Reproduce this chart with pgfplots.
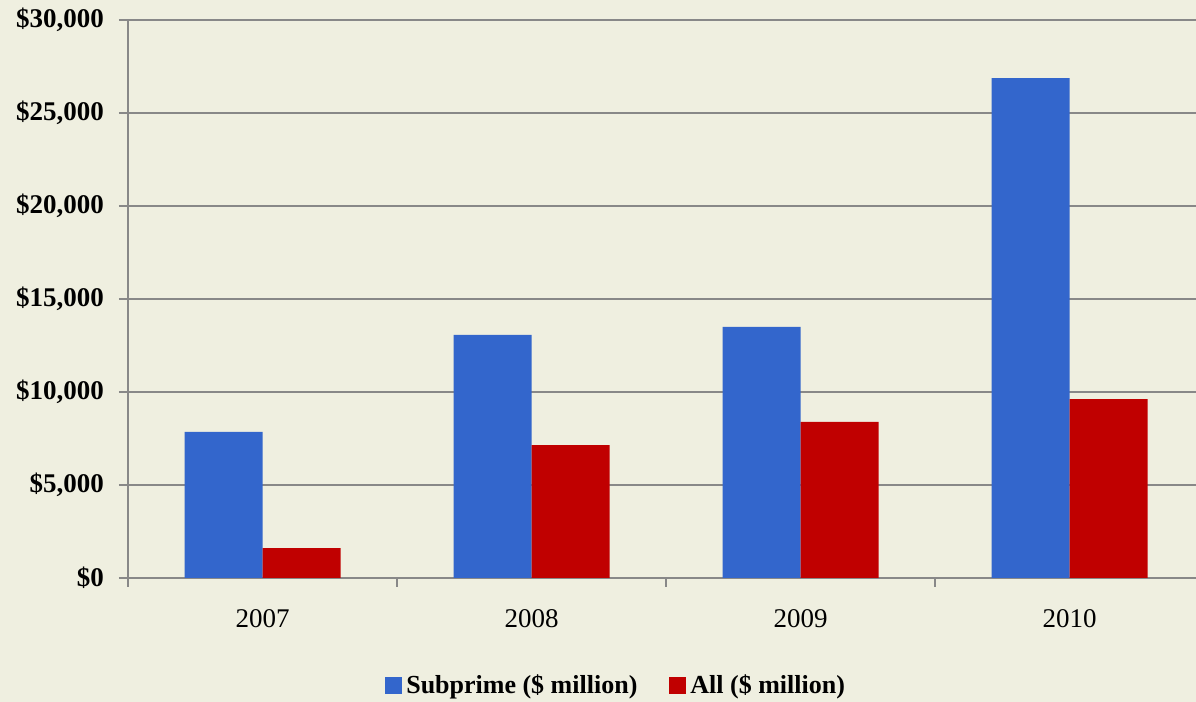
\documentclass[border=0pt]{standalone}
\usepackage{pgfplots}
\pgfplotsset{compat=1.18}
\usepackage{fontspec}
\setmainfont{Liberation Serif}
\definecolor{bg}{RGB}{239,239,224}
\definecolor{gridc}{RGB}{136,136,136}
\definecolor{sub}{RGB}{51,102,204}
\definecolor{allc}{RGB}{192,0,0}
\begin{document}
\begin{tikzpicture}
\fill[bg] (0,0) rectangle (598pt,351pt);
\useasboundingbox (0,0) rectangle (598pt,351pt);
\begin{axis}[
  at={(64pt,62pt)}, anchor=south west,
  scale only axis, width=534pt, height=279pt,
  ybar=0pt, bar width=39pt,
  xmin=-0.5, xmax=3.47,
  ymin=0, ymax=30000,
  axis x line*=bottom, axis y line*=left,
  axis line style={gridc, line width=1pt, -},
  every tick/.style={gridc, line width=1pt},
  ytick={0,5000,...,30000},
  yticklabels={\$0,{\$5,000},{\$10,000},{\$15,000},{\$20,000},{\$25,000},{\$30,000}},
  ymajorgrids, grid style={gridc, line width=1pt},
  yticklabel style={font=\bfseries\fontsize{13.5}{13.5}\selectfont, xshift=-4pt},
  scaled y ticks=false,
  ytick pos=left, tick align=outside, major tick length=4.5pt,
  xtick={-0.5,0.5,1.5,2.5}, xticklabels={},
  extra x ticks={0,1,2,3},
  extra x tick labels={2007,2008,2009,2010},
  extra x tick style={major tick length=0pt, xticklabel style={font=\fontsize{13.5}{13.5}\selectfont, yshift=-12pt}},
  legend style={at={(0.458,-0.1935)}, anchor=center, draw=none, fill=none,
    legend columns=2, font=\bfseries\fontsize{13}{13}\selectfont,
    /tikz/every even column/.append style={column sep=14pt}},
  legend image code/.code={\fill[#1] (0pt,-4.25pt) rectangle (8.5pt,4.25pt);},
]
\addplot[fill=sub, draw=none] coordinates {(0,7850) (1,13070) (2,13500) (3,26880)};
\addplot[fill=allc, draw=none] coordinates {(0,1610) (1,7150) (2,8390) (3,9620)};
\legend{Subprime (\$ million), All (\$ million)}
\end{axis}
\end{tikzpicture}
\end{document}
